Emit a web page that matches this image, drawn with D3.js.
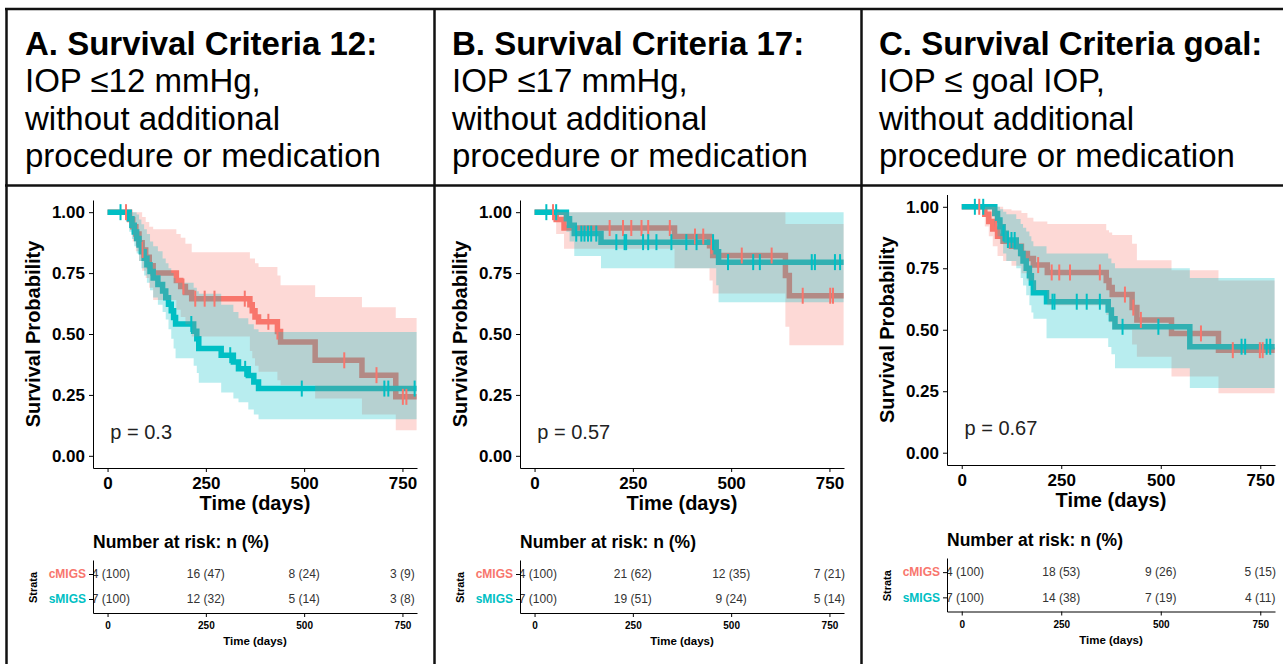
<!DOCTYPE html>
<html>
<head>
<meta charset="utf-8">
<script src="https://cdn.jsdelivr.net/npm/d3@7"></script>
<style>
  body { margin: 0; background: #fff; }
  text { font-family: "Liberation Sans", Arial, sans-serif; }
</style>
</head>
<body>
<div id="chart-area"></div>
<script>
const STRATA = ["cMIGS", "sMIGS"]
const X_TICKS = [0, 250, 500, 750]
const Y_TICKS = [0, 0.25, 0.5, 0.75, 1]
const RISK_TIMES = [0, 250, 500, 750]

const HEADINGS = ["A. Survival Criteria 12:", "B. Survival Criteria 17:", "C. Survival Criteria goal:"]
const HEADING_LINES = [
  ["IOP ≤12 mmHg,", "without additional", "procedure or medication"],
  ["IOP ≤17 mmHg,", "without additional", "procedure or medication"],
  ["IOP ≤ goal IOP,", "without additional", "procedure or medication"]
]
const P_VALUES = ["p = 0.3", "p = 0.57", "p = 0.67"]

// survival steps: [day, probability]
// confidence band steps: [day, lower, upper]
// --- A. criteria 12
const A_CMIGS_SURV = [[0,1],[56,0.97],[64,0.94],[72,0.91],[80,0.875],[88,0.845],[97,0.815],[106,0.78],[116,0.75],[175,0.72],[186,0.695],[198,0.67],[214,0.645],[362,0.62],[368,0.595],[375,0.57],[384,0.55],[432,0.51],[440,0.467],[528,0.392],[647,0.331],[733,0.242],[786,0.242]]
const A_CMIGS_CI = [[0,1,1],[56,0.93,1],[64,0.88,1],[72,0.84,1],[80,0.8,1],[88,0.76,0.98],[97,0.73,0.96],[106,0.69,0.94],[116,0.64,0.93],[175,0.6,0.91],[186,0.57,0.895],[198,0.54,0.87],[214,0.49,0.836],[362,0.43,0.81],[368,0.4,0.81],[375,0.37,0.79],[384,0.345,0.775],[432,0.31,0.74],[440,0.29,0.7],[528,0.235,0.652],[647,0.17,0.61],[733,0.105,0.566],[786,0.105,0.566]]
const A_CMIGS_CENSOR = [47, 89, 193, 223, 247, 272, 349, 409, 432, 602, 684, 751, 760]
const A_SMIGS_SURV = [[0,1],[55,0.973],[62,0.946],[68,0.919],[74,0.892],[80,0.865],[86,0.838],[93,0.811],[100,0.784],[108,0.757],[116,0.73],[128,0.703],[140,0.676],[148,0.649],[155,0.622],[162,0.595],[168,0.568],[173,0.541],[219,0.511],[227,0.48],[232,0.441],[289,0.413],[320,0.385],[333,0.357],[358,0.33],[372,0.303],[384,0.276],[786,0.276]]
const A_SMIGS_CI = [[0,1,1],[55,0.92,1],[62,0.89,1],[68,0.86,1],[74,0.83,0.99],[80,0.8,0.97],[86,0.77,0.95],[93,0.74,0.93],[100,0.71,0.91],[108,0.68,0.88],[116,0.65,0.86],[128,0.62,0.84],[140,0.59,0.81],[148,0.56,0.79],[155,0.52,0.77],[162,0.48,0.75],[168,0.44,0.73],[173,0.4,0.71],[219,0.37,0.69],[227,0.34,0.675],[232,0.3,0.665],[289,0.26,0.62],[320,0.235,0.59],[333,0.22,0.565],[358,0.19,0.54],[372,0.17,0.52],[384,0.15,0.508],[786,0.15,0.508]]
const A_SMIGS_CENSOR = [33, 213, 312, 350, 494, 704, 714, 781]
const A_RISK_CMIGS = ["34 (100)", "16 (47)", "8 (24)", "3 (9)"]
const A_RISK_SMIGS = ["37 (100)", "12 (32)", "5 (14)", "3 (8)"]

// --- B. criteria 17
const B_CMIGS_SURV = [[0,1],[55,0.97],[75,0.935],[356,0.9],[445,0.862],[453,0.822],[638,0.74],[648,0.657],[786,0.657]]
const B_CMIGS_CI = [[0,1,1],[55,0.91,1],[75,0.85,1],[356,0.77,1],[445,0.72,1],[453,0.666,1],[638,0.53,0.952],[648,0.454,0.952],[786,0.454,0.952]]
const B_CMIGS_CENSOR = [47, 191, 225, 246, 272, 289, 344, 408, 429, 450, 527, 603, 682, 752, 759]
const B_SMIGS_SURV = [[0,1],[81,0.973],[89,0.946],[101,0.912],[169,0.877],[462,0.838],[468,0.795],[786,0.795]]
const B_SMIGS_CI = [[0,1,1],[81,0.92,1],[89,0.88,1],[101,0.82,1],[169,0.77,1],[462,0.7,1],[468,0.63,1],[786,0.63,1]]
const B_SMIGS_CENSOR = [30, 55, 106, 119, 127, 136, 144, 157, 208, 229, 233, 276, 289, 310, 348, 386, 412, 454, 492, 556, 573, 705, 713, 764, 777]
const B_RISK_CMIGS = ["34 (100)", "21 (62)", "12 (35)", "7 (21)"]
const B_RISK_SMIGS = ["37 (100)", "19 (51)", "9 (24)", "5 (14)"]

// --- C. criteria goal
const C_CMIGS_SURV = [[0,1],[58,0.97],[68,0.94],[78,0.91],[90,0.88],[104,0.86],[125,0.84],[150,0.81],[165,0.79],[180,0.763],[215,0.733],[363,0.7],[370,0.672],[378,0.643],[428,0.59],[440,0.54],[527,0.485],[645,0.417],[786,0.417]]
const C_CMIGS_CI = [[0,1,1],[58,0.92,1],[68,0.88,1],[78,0.84,1],[90,0.8,1],[104,0.78,0.99],[125,0.76,0.985],[150,0.73,0.975],[165,0.7,0.955],[180,0.66,0.94],[215,0.6,0.93],[363,0.56,0.905],[370,0.53,0.895],[378,0.5,0.885],[428,0.44,0.85],[440,0.39,0.783],[527,0.31,0.742],[645,0.242,0.7],[786,0.242,0.7]]
const C_CMIGS_CENSOR = [44, 86, 192, 226, 245, 272, 347, 410, 431, 450, 601, 681, 749, 756]
const C_SMIGS_SURV = [[0,1],[83,0.973],[90,0.946],[96,0.919],[104,0.892],[112,0.865],[137,0.838],[148,0.81],[154,0.78],[162,0.75],[170,0.72],[175,0.69],[180,0.65],[213,0.614],[368,0.58],[376,0.545],[385,0.512],[573,0.431],[786,0.431]]
const C_SMIGS_CI = [[0,1,1],[83,0.92,1],[90,0.88,1],[96,0.85,0.99],[104,0.81,0.98],[112,0.78,0.97],[137,0.75,0.95],[148,0.71,0.93],[154,0.68,0.915],[162,0.64,0.9],[170,0.6,0.88],[175,0.57,0.86],[180,0.545,0.84],[213,0.465,0.81],[368,0.43,0.79],[376,0.4,0.77],[385,0.343,0.75],[573,0.263,0.71],[786,0.263,0.71]]
const C_SMIGS_CENSOR = [33, 54, 105, 116, 125, 133, 228, 233, 289, 314, 347, 404, 494, 703, 712, 766, 775]
const C_RISK_CMIGS = ["34 (100)", "18 (53)", "9 (26)", "5 (15)"]
const C_RISK_SMIGS = ["37 (100)", "14 (38)", "7 (19)", "4 (11)"]

const PANEL_DATA = [
  { surv: [A_CMIGS_SURV, A_SMIGS_SURV], ci: [A_CMIGS_CI, A_SMIGS_CI], censor: [A_CMIGS_CENSOR, A_SMIGS_CENSOR], risk: [A_RISK_CMIGS, A_RISK_SMIGS] },
  { surv: [B_CMIGS_SURV, B_SMIGS_SURV], ci: [B_CMIGS_CI, B_SMIGS_CI], censor: [B_CMIGS_CENSOR, B_SMIGS_CENSOR], risk: [B_RISK_CMIGS, B_RISK_SMIGS] },
  { surv: [C_CMIGS_SURV, C_SMIGS_SURV], ci: [C_CMIGS_CI, C_SMIGS_CI], censor: [C_CMIGS_CENSOR, C_SMIGS_CENSOR], risk: [C_RISK_CMIGS, C_RISK_SMIGS] }
]

// layout (pixels)
const SVG_WIDTH = 1283
const SVG_HEIGHT = 664
const COLORS = ["#F8766D", "#00BFC4"]
const X_DOMAIN = [-37, 787]
const Y_DOMAIN = [-0.05, 1.05]
const LAYOUT = [
  { headX: 25, left: 93, right: 417, top: 200, bottom: 468, tableTop: 560, tableBottom: 613 },
  { headX: 452, left: 520, right: 844, top: 200, bottom: 468, tableTop: 560, tableBottom: 613 },
  { headX: 879, left: 947, right: 1275, top: 194.5, bottom: 465, tableTop: 558, tableBottom: 611.5 }
]

const svg = d3.select("#chart-area").append("svg")
  .attr("width", SVG_WIDTH)
  .attr("height", SVG_HEIGHT)

svg.append("rect").attr("width", SVG_WIDTH).attr("height", SVG_HEIGHT).attr("fill", "#fff")

// table frame
const frame = svg.append("g").attr("stroke", "#111").attr("stroke-width", 2.5)
frame.append("line").attr("x1", 5).attr("x2", SVG_WIDTH).attr("y1", 9).attr("y2", 9)
frame.append("line").attr("x1", 5).attr("x2", SVG_WIDTH).attr("y1", 185.5).attr("y2", 185.5)
;[6.5, 434.5, 861.5].forEach(xx => {
  frame.append("line").attr("x1", xx).attr("x2", xx).attr("y1", 8).attr("y2", SVG_HEIGHT)
})

function styleAxis(sel, size) {
  sel.selectAll("path, line").attr("stroke", "#000").attr("stroke-width", 1)
  sel.selectAll("text")
    .attr("font-size", size + "px")
    .attr("font-weight", "bold")
    .attr("font-family", "'Liberation Sans', Arial, sans-serif")
    .attr("fill", "#000")
}

const stepValue = (surv, t) => surv[d3.bisector(d => d[0]).right(surv, t) - 1][1]

LAYOUT.forEach((L, i) => {
  const D = PANEL_DATA[i]
  const g = svg.append("g")

  // heading
  g.append("text")
    .attr("x", L.headX).attr("y", 55)
    .attr("font-size", "33px").attr("font-weight", "bold")
    .text(HEADINGS[i])
  HEADING_LINES[i].forEach((t, j) => {
    g.append("text")
      .attr("x", L.headX).attr("y", 92 + j * 37.5)
      .attr("font-size", "33px")
      .text(t)
  })

  const x = d3.scaleLinear().domain(X_DOMAIN).range([L.left, L.right])
  const y = d3.scaleLinear().domain(Y_DOMAIN).range([L.bottom, L.top])

  const line = d3.line().curve(d3.curveStepAfter).x(d => x(d[0])).y(d => y(d[1]))
  const area = d3.area().curve(d3.curveStepAfter).x(d => x(d[0])).y0(d => y(d[1])).y1(d => y(d[2]))

  // curves, then bands on top, then censor marks (ggsurvplot order)
  D.surv.forEach((s, k) => {
    g.append("path").attr("d", line(s))
      .attr("fill", "none").attr("stroke", COLORS[k]).attr("stroke-width", 5.5)
  })
  D.ci.forEach((c, k) => {
    g.append("path").attr("d", area(c))
      .attr("fill", COLORS[k]).attr("fill-opacity", 0.28)
  })
  D.censor.forEach((cs, k) => {
    g.selectAll(null).data(cs).enter().append("line")
      .attr("x1", d => x(d)).attr("x2", d => x(d))
      .attr("y1", d => y(stepValue(D.surv[k], d)) - 8)
      .attr("y2", d => y(stepValue(D.surv[k], d)) + 8)
      .attr("stroke", COLORS[k]).attr("stroke-width", 2)
  })

  // axes
  const xAxis = g.append("g")
    .attr("transform", `translate(0, ${L.bottom})`)
    .call(d3.axisBottom(x).tickValues(X_TICKS).tickSize(4).tickSizeOuter(0).tickPadding(5))
  styleAxis(xAxis, 17)
  const yAxis = g.append("g")
    .attr("transform", `translate(${L.left}, 0)`)
    .call(d3.axisLeft(y).tickValues(Y_TICKS).tickFormat(d3.format(".2f")).tickSize(4).tickSizeOuter(0).tickPadding(4))
  styleAxis(yAxis, 17)

  g.append("text")
    .attr("x", (L.left + L.right) / 2).attr("y", L.bottom + 42)
    .attr("text-anchor", "middle").attr("font-size", "20px").attr("font-weight", "bold")
    .text("Time (days)")
  g.append("text")
    .attr("transform", `translate(${L.left - 60}, ${(L.top + L.bottom) / 2}) rotate(-90)`)
    .attr("dy", "0.35em")
    .attr("text-anchor", "middle").attr("font-size", "20px").attr("font-weight", "bold")
    .text("Survival Probability")
  g.append("text")
    .attr("x", x(7)).attr("y", y(0.07))
    .attr("font-size", "20px").attr("fill", "#222")
    .text(P_VALUES[i])

  // risk table
  g.append("text")
    .attr("x", L.left).attr("y", L.tableTop - 12)
    .attr("font-size", "17.5px").attr("font-weight", "bold")
    .text("Number at risk: n (%)")

  const yRisk = d3.scalePoint().domain(STRATA).range([L.tableTop, L.tableBottom]).padding(0.56)

  const clipId = "risk-clip-" + i
  svg.append("clipPath").attr("id", clipId)
    .append("rect")
    .attr("x", L.left).attr("y", L.tableTop)
    .attr("width", L.right - L.left + 3).attr("height", L.tableBottom - L.tableTop)

  const cells = g.append("g").attr("clip-path", `url(#${clipId})`)
  STRATA.forEach((s, k) => {
    cells.selectAll(null).data(RISK_TIMES).enter().append("text")
      .attr("x", d => x(d)).attr("y", yRisk(s))
      .attr("dy", "0.35em").attr("text-anchor", "middle")
      .attr("font-size", "12px").attr("fill", "#333")
      .text((d, j) => D.risk[k][j])
  })

  const rxAxis = g.append("g")
    .attr("transform", `translate(0, ${L.tableBottom})`)
    .call(d3.axisBottom(x).tickValues(X_TICKS).tickSize(4).tickSizeOuter(0).tickPadding(5))
  styleAxis(rxAxis, 10)
  const ryAxis = g.append("g")
    .attr("transform", `translate(${L.left}, 0)`)
    .call(d3.axisLeft(yRisk).tickSize(4).tickSizeOuter(0).tickPadding(3))
  styleAxis(ryAxis, 12)
  ryAxis.selectAll(".tick text").attr("fill", (d, k) => COLORS[k])

  g.append("text")
    .attr("x", (L.left + L.right) / 2).attr("y", L.tableBottom + 32)
    .attr("text-anchor", "middle").attr("font-size", "11.5px").attr("font-weight", "bold")
    .text("Time (days)")
  g.append("text")
    .attr("transform", `translate(${L.left - 60}, ${(L.tableTop + L.tableBottom) / 2 + 1}) rotate(-90)`)
    .attr("dy", "0.35em")
    .attr("text-anchor", "middle").attr("font-size", "11px").attr("font-weight", "bold")
    .text("Strata")
})
</script>
</body>
</html>
